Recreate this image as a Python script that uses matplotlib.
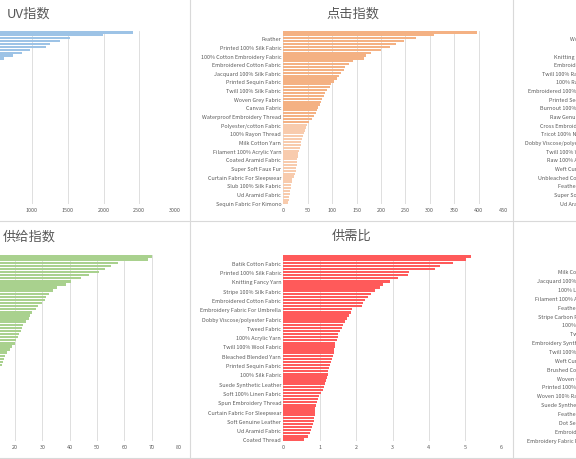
import matplotlib
matplotlib.use("Agg")
import matplotlib.pyplot as plt
from matplotlib.lines import Line2D
import numpy as np

plt.rcParams['font.family'] = ['Noto Sans CJK SC', 'DejaVu Sans']

W, H = 576, 460

# ---- data (sorted descending, top bar first) ----
uv_values = [2407, 1990, 1530, 1389, 1250, 1190, 972, 857, 732, 611, 530,
             500, 470, 445, 420, 400, 380, 362, 345, 330, 315,
             300, 288, 276, 265, 255, 245, 236, 228, 220, 212,
             204, 197, 190, 183, 176, 170, 164, 158, 152, 146,
             140, 135, 130, 125, 120, 115, 110, 105, 100, 95,
             90, 85, 80, 75, 70, 64, 58, 52, 45]

click_values = [397, 309, 271, 247, 230, 218, 200, 179, 170, 165,
                143, 135, 127, 124, 119, 115, 110, 104, 98, 95,
                90, 86, 83, 80, 77, 75, 72, 69, 66, 63,
                58, 53, 48, 46, 44, 42, 40, 38, 37, 36,
                34, 33, 31, 30, 29, 28, 28, 27, 25, 23,
                21, 18, 17, 16, 15, 14, 13, 12, 11, 9]

supply_values = [70.2, 68.5, 57.5, 55.0, 53.0, 50.7, 47.0, 44.0, 40.3, 38.5,
                 35.4, 34.0, 32.5, 31.5, 31.0, 30.0, 28.5, 27.5, 26.3, 25.5,
                 25.0, 24.0, 23.0, 22.5, 22.0, 21.5, 21.0, 20.5, 19.8, 19.0,
                 18.0, 17.0, 16.5, 15.8, 15.5, 15.2, 14.1, 13.6, 13.2, 12.4,
                 12.1, 11.3, 11.0, 10.6, 9.8, 9.5, 9.1, 8.4, 8.0, 7.6,
                 6.9, 6.5, 6.1, 5.4, 5.0, 4.6, 4.1, 3.4, 3.0, 2.4]

ratio_values = [5.15, 5.02, 4.65, 4.30, 4.17, 3.46, 3.42, 3.16, 2.93, 2.75,
                2.66, 2.52, 2.40, 2.33, 2.24, 2.20, 2.15, 1.90, 1.85, 1.80,
                1.74, 1.69, 1.65, 1.60, 1.56, 1.51, 1.49, 1.47, 1.42, 1.41,
                1.40, 1.39, 1.36, 1.33, 1.30, 1.28, 1.26, 1.24, 1.22, 1.19,
                1.17, 1.14, 1.11, 1.08, 1.04, 0.99, 0.96, 0.92, 0.90, 0.88,
                0.87, 0.86, 0.85, 0.84, 0.82, 0.80, 0.75, 0.72, 0.69, 0.57]

click_labels = ["Feather", "Printed 100% Silk Fabric", "100% Cotton Embroidery Fabric",
                "Embroidered Cotton Fabric", "Jacquard 100% Silk Fabric",
                "Printed Sequin Fabric", "Twill 100% Silk Fabric", "Woven Grey Fabric",
                "Canvas Fabric", "Waterproof Embroidery Thread", "Polyester/cotton Fabric",
                "100% Rayon Thread", "Milk Cotton Yarn", "Filament 100% Acrylic Yarn",
                "Coated Aramid Fabric", "Super Soft Faux Fur", "Curtain Fabric For Sleepwear",
                "Slub 100% Silk Fabric", "Ud Aramid Fabric", "Sequin Fabric For Kimono"]

ratio_labels = ["Batik Cotton Fabric", "Printed 100% Silk Fabric", "Knitting Fancy Yarn",
                "Stripe 100% Silk Fabric", "Embroidered Cotton Fabric",
                "Embroidery Fabric For Umbrella", "Dobby Viscose/polyester Fabric",
                "Tweed Fabric", "100% Acrylic Yarn", "Twill 100% Wool Fabric",
                "Bleached Blended Yarn", "Printed Sequin Fabric", "100% Silk Fabric",
                "Suede Synthetic Leather", "Soft 100% Linen Fabric", "Spun Embroidery Thread",
                "Curtain Fabric For Sleepwear", "Soft Genuine Leather", "Ud Aramid Fabric",
                "Coated Thread"]

# right-hand panels are cut off by the screenshot, only the label starts show
top_right_labels = ["Woven Fabric", "Lace", "Knitting Fancy Yarn", "Embroidered Fabric",
                    "Twill 100% Rayon Fabric", "100% Rayon Fabric",
                    "Embroidered 100% Silk Fabric", "Printed Sequin Fabric",
                    "Burnout 100% Silk Fabric", "Raw Genuine Leather",
                    "Cross Embroidery Thread", "Tricot 100% Nylon Fabric",
                    "Dobby Viscose/polyester Fabric", "Twill 100% Wool Fabric",
                    "Raw 100% Acrylic Yarn", "Weft Curtain Fabric",
                    "Unbleached Cotton Fabric", "Feather For Pillow",
                    "Super Soft Faux Fur", "Ud Aramid Fabric"]

bottom_right_labels = ["Silk Yarn", "Milk Cotton Fabric", "Jacquard 100% Silk Fabric",
                       "100% Linen Fabric", "Filament 100% Acrylic Yarn", "Feather Trimming",
                       "Stripe Carbon Fiber Fabric", "100% Silk Fabric", "Tweed Fabric",
                       "Embroidery Synthetic Fabric", "Twill 100% Silk Fabric",
                       "Weft Curtain Fabric", "Brushed Cotton Fabric", "Woven Grey Fabric",
                       "Printed 100% Silk Fabric", "Woven 100% Rayon Fabric",
                       "Suede Synthetic Leather", "Feather For Pillow", "Dot Sequin Fabric",
                       "Embroidery Thread", "Embroidery Fabric For Curtain"]

TEXT = '#595959'
GRID = '#D9D9D9'
TICK_FS = 3.9


def px_axes(fig, x0, y0, x1, y1):
    """add axes from pixel box (y measured from the top)"""
    return fig.add_axes([x0 / W, 1 - y1 / H, (x1 - x0) / W, (y1 - y0) / H])


def style_axes(ax, n, xmax, step, labels):
    ax.set_ylim(n - 0.5, -0.5)
    ax.set_xlim(0, xmax)
    ax.set_xticks(np.arange(0, xmax + step / 2, step))
    ax.xaxis.set_major_formatter(matplotlib.ticker.FuncFormatter(
        lambda v, p: f"{v:g}"))
    ticks = list(range(2, n, 3))[:len(labels)]
    ax.set_yticks(ticks)
    ax.set_yticklabels(labels)
    ax.tick_params(axis='both', length=0, labelsize=TICK_FS, colors=TEXT)
    ax.tick_params(axis='y', pad=1.5)
    ax.tick_params(axis='x', pad=2.5)
    ax.grid(axis='x', color=GRID, linewidth=0.6)
    ax.set_axisbelow(True)
    for s in ax.spines.values():
        s.set_visible(False)


def bar_panel(ax, values, colors, xmax, step, labels):
    n = len(values)
    ax.barh(np.arange(n), values, height=0.78, color=colors, linewidth=0)
    style_axes(ax, n, xmax, step, labels)


fig = plt.figure(figsize=(W / 100, H / 100), dpi=100)
fig.patch.set_facecolor('white')

# top row
ax_uv = px_axes(fig, -39.5, 32, 175, 205)
bar_panel(ax_uv, uv_values, '#9DC3E6', 3000, 500, [])

click_colors = ['#F4B183' if i < 32 else '#F8CBAD' for i in range(len(click_values))]
ax_click = px_axes(fig, 283.3, 32, 503, 205)
bar_panel(ax_click, click_values, click_colors, 450, 50, click_labels)

ax_tr = px_axes(fig, 606, 32, 826, 205)
style_axes(ax_tr, 60, 450, 50, top_right_labels)

# bottom row
ax_sup = px_axes(fig, -39.6, 256, 179, 442)
bar_panel(ax_sup, supply_values, '#A9D18E', 80, 10, [])

ax_ratio = px_axes(fig, 283.3, 256, 501.7, 442)
bar_panel(ax_ratio, ratio_values, '#FF5A5A', 6, 1, ratio_labels)

ax_br = px_axes(fig, 606, 256, 826, 442)
style_axes(ax_br, 63, 6, 1, bottom_right_labels)

# titles
title_kw = dict(fontsize=9.5, color=TEXT, ha='center', va='center')
fig.text(28.5 / W, 1 - 14 / H, "UV指数", **title_kw)
fig.text(353 / W, 1 - 14 / H, "点击指数", **title_kw)
fig.text(29 / W, 1 - 237 / H, "供给指数", **title_kw)
fig.text(352 / W, 1 - 236 / H, "供需比", **title_kw)

# chart-area borders of the dashboard tiles
for x in (189.5, 512.5):
    fig.add_artist(Line2D([x / W, x / W], [0, 1], color=GRID, linewidth=0.8))
for y in (221.5, 458.5):
    fig.add_artist(Line2D([0, 1], [1 - y / H, 1 - y / H], color=GRID, linewidth=0.8))

fig.savefig('out.png', dpi=100)
